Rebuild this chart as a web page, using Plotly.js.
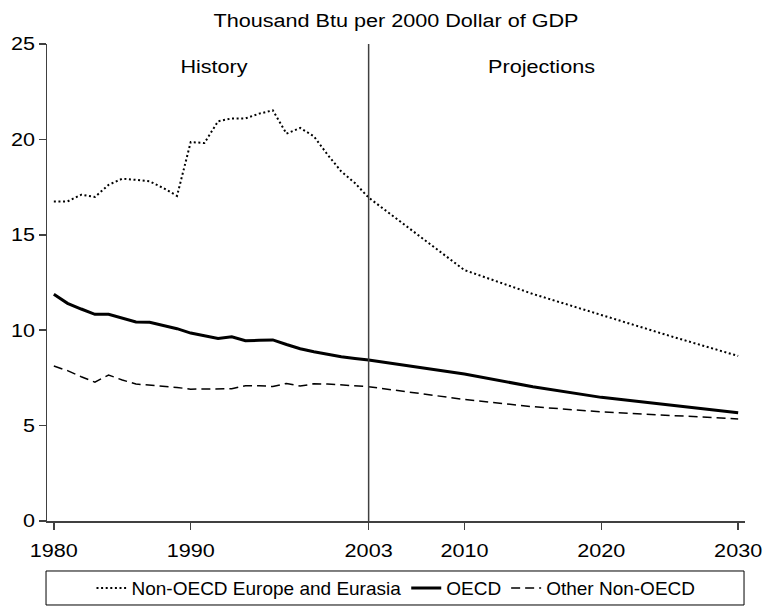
<!DOCTYPE html>
<html>
<head>
<meta charset="utf-8">
<script src="https://cdn.plot.ly/plotly-3.0.1.min.js"></script>
<style>
  html, body { margin: 0; padding: 0; background: #fff; }
  #chart { width: 774px; height: 607px; }
</style>
</head>
<body>
<div id="chart"></div>
<script>
// ---- Data ----
const years = [1980,1981,1982,1983,1984,1985,1986,1987,1988,1989,1990,1991,1992,1993,1994,1995,1996,1997,1998,1999,2000,2001,2002,2003,2010,2015,2020,2025,2030];

const nonOecdEurope = [16.75,16.75,17.10,16.98,17.62,17.94,17.88,17.80,17.45,17.04,19.86,19.81,20.95,21.10,21.10,21.35,21.52,20.30,20.60,20.16,19.20,18.32,17.71,16.95,13.15,11.90,10.80,9.70,8.65];

const oecd = [11.88,11.41,11.11,10.83,10.83,10.62,10.43,10.42,10.27,10.08,9.85,9.73,9.57,9.66,9.45,9.47,9.49,9.25,9.03,8.87,8.73,8.61,8.52,8.44,7.70,7.04,6.48,6.07,5.67];

const otherNonOecd = [8.12,7.88,7.56,7.28,7.65,7.39,7.18,7.12,7.07,7.00,6.91,6.91,6.91,6.93,7.09,7.09,7.05,7.21,7.07,7.19,7.18,7.14,7.09,7.04,6.37,5.99,5.72,5.53,5.35];

const seriesNames = ["Non-OECD Europe and Eurasia", "OECD", "Other Non-OECD"];
const tickYears = [1980, 1990, 2003, 2010, 2020, 2030];
const tickLabels = ["1980", "1990", "2003", "2010", "2020", "2030"];
const dividerYear = 2003;
const periodLabels = ["History", "Projections"];
const periodLabelYears = [1991.7, 2015.6];
const chartTitle = "Thousand Btu per 2000 Dollar of GDP";

// ---- Chart ----
const FONT = "Liberation Sans, Arial, sans-serif";
const axisColor = "#404040";
const TXT = 18;

const traces = [
  { x: years, y: nonOecdEurope, name: seriesNames[0], type: "scatter", mode: "lines",
    line: { color: "#000", width: 2, dash: "2px,2.6px" } },
  { x: years, y: oecd, name: seriesNames[1], type: "scatter", mode: "lines",
    line: { color: "#000", width: 3 } },
  { x: years, y: otherNonOecd, name: seriesNames[2], type: "scatter", mode: "lines",
    line: { color: "#000", width: 1.5, dash: "9px,5px" } }
];

const layout = {
  width: 774, height: 607,
  margin: { l: 47, r: 29, t: 44, b: 86 },
  paper_bgcolor: "#fff", plot_bgcolor: "#fff",
  font: { family: FONT, size: TXT, color: "#000" },
  title: { text: chartTitle, font: { family: FONT, size: TXT, color: "#000" },
           x: 0.5, xref: "paper", xanchor: "center", y: 0.966, yref: "container", yanchor: "middle" },
  xaxis: {
    range: [1979.5, 2030.5], showgrid: false, zeroline: false,
    showline: true, linecolor: axisColor, linewidth: 1.5,
    ticks: "outside", ticklen: 7, tickwidth: 1.5, tickcolor: axisColor,
    ticklabelstandoff: 6,
    tickvals: tickYears, ticktext: tickLabels,
    tickfont: { family: FONT, size: TXT, color: "#000" }
  },
  yaxis: {
    range: [0, 25], dtick: 5, showgrid: false, zeroline: false,
    showline: true, linecolor: axisColor, linewidth: 1.5,
    ticks: "outside", ticklen: 7, tickwidth: 1.5, tickcolor: axisColor,
    tickfont: { family: FONT, size: TXT, color: "#000" }
  },
  shapes: [
    { type: "line", xref: "x", yref: "paper", x0: dividerYear, x1: dividerYear, y0: 0, y1: 1,
      line: { color: axisColor, width: 1.5 } },
    { type: "rect", xref: "paper", yref: "paper", x0: -0.0014, x1: 0.9986, y0: -0.1048, y1: -0.1761,
      line: { color: "#000", width: 1 }, fillcolor: "rgba(0,0,0,0)" }
  ],
  annotations: periodLabels.map((t, i) => ({
    text: t, x: periodLabelYears[i], y: 23.77, xref: "x", yref: "y",
    showarrow: false, font: { family: FONT, size: TXT, color: "#000" }
  })),
  showlegend: true,
  legend: {
    orientation: "h", x: 0.5, xref: "paper", xanchor: "center",
    y: 0.031, yref: "container", yanchor: "middle",
    borderwidth: 0, bgcolor: "rgba(0,0,0,0)",
    font: { family: FONT, size: 19, color: "#000" },
    traceorder: "normal"
  }
};

Plotly.newPlot("chart", traces, layout, { displayModeBar: false, staticPlot: true }).then(gd => {
  // Reference text is drawn slightly wide: stretch horizontally around its anchor.
  gd.querySelectorAll(".gtitle, .xtick text, .ytick text, .annotation-text").forEach(t => {
    const w = t.getComputedTextLength();
    if (w > 0) {
      t.setAttribute("textLength", (w * 1.2).toFixed(1));
      t.setAttribute("lengthAdjust", "spacingAndGlyphs");
    }
  });
});
</script>
</body>
</html>
